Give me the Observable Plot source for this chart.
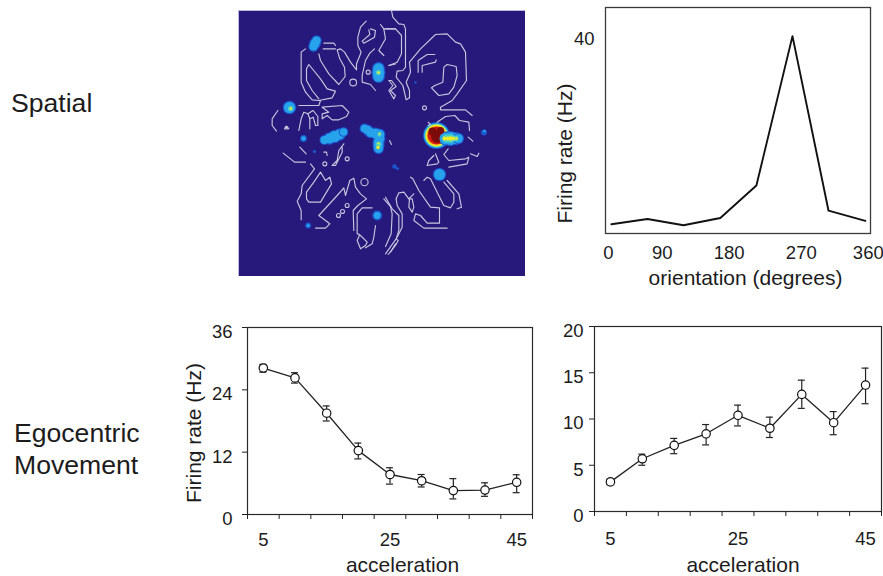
<!DOCTYPE html>
<html><head><meta charset="utf-8">
<script src="https://cdn.jsdelivr.net/npm/d3@7"></script>
<script src="https://cdn.jsdelivr.net/npm/@observablehq/plot@0.6"></script>
<style>
html,body{margin:0;padding:0;background:#fff;}
#page{position:relative;width:883px;height:576px;overflow:hidden;font-family:"Liberation Sans",Arial,sans-serif;color:#1c1c1c;}
#page svg{position:absolute;background:transparent;max-width:none;font-family:"Liberation Sans",Arial,sans-serif;}
.side{position:absolute;font-size:26.6px;line-height:32px;white-space:pre;}
.soft{filter:blur(0.65px);}
.soft2{filter:blur(0.35px);}
</style></head><body><div id="page">
<div class="side" style="left:11px;top:87px">Spatial</div>
<div class="side" style="left:14px;top:417px">Egocentric
Movement</div>
</div>
<script>
// Orientation tuning
const orientationDeg=[8,57,106,156,205,254,303,353];
const orientationRate=[1.9,3.0,1.7,3.2,9.9,40.7,4.7,2.6];
const orientationLabels=["0","90","180","270","360"];
const orientationLabelAt=[4,77,168,266,357];
// Acceleration tuning
const accel=[5,10,15,20,25,30,35,40,45];
const accelEdges=[2.5,7.5,12.5,17.5,22.5,27.5,32.5,37.5,42.5,47.5];
const accelLabels=[5,25,45];
const rateA=[28.2,26.3,19.5,12.3,7.7,6.5,4.6,4.7,6.2];
const hiA=[28.9,27.3,20.9,13.75,9,7.7,6.9,6.1,7.65];
const loA=[27.4,25.3,18,10.7,5.85,5.3,3,3.5,4.2];
const rateB=[3.2,5.7,7.15,8.4,10.4,9.0,12.66,9.6,13.67];
const hiB=[3.5,6.2,7.9,9.4,11.5,10.2,14.2,10.8,15.5];
const loB=[2.9,5.0,6.25,7.2,9.25,8,11.15,8.3,11.65];
const ticksA=[0,12,24,36];
const ticksB=[0,5,10,15,20];
// Rate map: firing patches (x, y, radius, level)
const levelNames=[0,1,2,3,4,5,6];
const levelColors=["#1b58cf","#27a3ec","#4fd2c4","#f4ea24","#f08a1c","#d51a10","#7c0c0c"];
const patches=[
 [313,46,5.2,0],[314.5,43,5.8,0],[316,40,5.2,0],[313,46,4,1],[314.5,43,4.5,1],[316,40,4,1],
 [378,68,6.5,0],[378,72,7,0],[378,76,6.5,0],[378,68,5.2,1],[378,72,5.8,1],[378,76,5.2,1],[378,72,2.6,2],[378,72,1.2,3],
 [289,107,6.8,0],[289,107,5.6,1],[290,108,2.6,2],[290.5,108,1.2,3],
 [303,138,3.4,0],[303,138,2.2,1],
 [324,139.5,5,0],[329,138,6.2,0],[334,136,6.6,0],[339,134,6.2,0],[343,131.5,4.8,0],
 [324,139.5,4,1],[329,138,5,1],[334,136,5.5,1],[339,134,5,1],[343,131.5,3.8,1],
 [364,128,5,0],[367,129.5,5.5,0],[370,132,5.8,0],[375,133,6,0],[379,134,6,0],[379,138,6,0],[378,142,6,0],[378,145,6,0],[378,148,5.5,0],
 [364,128,3.8,1],[367,129.5,4.2,1],[370,132,4.5,1],[375,133,4.8,1],[379,134,4.8,1],[379,138,4.8,1],[378,142,4.8,1],[378,145,4.8,1],[378,148,4.4,1],
 [379,134,2,2],[378,144,2.8,2],[377.5,147,1.7,3],[378,143,1.1,3],[379,133,1,3],
 [436,135,13.5,0],[445,138,7,0],[450,138,7.5,0],[455,138,6.6,0],[458,138,5.5,0],
 [436,135,12.6,1],[445,138,6,1],[450,138,6.5,1],[455,138,5.6,1],[458,138,4.5,1],
 [436,135,11.8,2],[446,138,4,2],[450,138,4.2,2],[455,138,3,2],
 [436,135,11,3],[444,138,2,3],[447,138,2,3],[450,138,2.2,3],[453,138,1.8,3],[456,138,1.2,3],
 [436,135,9.6,4],[436,135,8.8,5],[432,131,4,6],[440,130,3.6,6],[437,136,6.4,6],
 [483.5,132,3,0],[484,130.5,1.3,1],
 [439,174,6.6,0],[439,174,5.5,1],
 [376.7,215,5,0],[376.7,215,3.4,1],
 [307.7,225,3,0],[307.7,225,1.6,1],
 [394,166,2.2,0],[397,168,1.6,0],[314,151,1.6,0],[415,82,1.2,0]
].sort((a,b)=>a[3]-b[3]);
// Rate map: outline traces of the apparatus, read per quadrant (origin, then points at 3 units per pixel)
const outlinesNW=[
 [[287,32],[270,50],[262,80],[262,105],[272,125],[258,160],[258,178],[240,155],[222,125],[210,115],[200,118],[208,145],[222,170],[224,198],[205,222],[175,190],[150,150],[145,130]],
 [[160,98],[190,98],[195,105]],[[158,115],[195,115]],
 [[105,115],[92,125],[92,215],[105,245],[125,268],[145,270],[185,262],[195,242],[170,235],[150,205],[115,162],[108,175],[108,210],[125,240],[145,265]],
 [[85,285],[145,285],[150,270]],
 [[300,55],[315,60],[312,80],[280,98],[275,92],[298,72],[295,58]],
 [[330,42],[340,55],[345,85],[325,120],[340,135]],[[340,55],[375,55]],
 [[312,115],[298,128],[285,150],[275,195],[275,215],[300,222],[315,240]],
 [[375,160],[355,165]],
 [[22,300],[5,325],[5,345],[18,362]],
 [[85,360],[92,325],[100,305],[112,310],[118,325],[118,355]],
 [[112,310],[128,300],[142,318],[142,345],[135,345],[128,320],[118,325]],
 [[155,290],[215,285],[235,305],[228,318],[205,328],[185,328],[170,315],[155,325],[155,310],[175,305],[155,290]],
 [[42,355],[48,347],[55,355]]
];
const outlinesNE=[
 [[18,0],[22,20],[40,40],[55,42],[60,55],[60,170],[52,180],[35,182],[32,200],[52,225],[58,250],[62,268],[72,262],[72,240],[62,215],[75,185],[72,155],[105,115],[150,72],[185,70],[210,95],[225,100],[240,125],[243,210],[215,250],[200,270],[165,290],[165,298],[240,298],[260,315]],
 [[0,55],[30,55],[48,75],[48,130],[35,155],[10,165]],
 [[10,210],[22,225],[10,240],[25,265],[30,255],[15,240],[32,228],[18,210],[10,210]],
 [[98,185],[98,150],[125,132],[148,132]],[[110,185],[110,165],[150,155],[152,148]],
 [[185,162],[175,170],[172,215],[148,225],[138,232],[160,255],[190,250],[205,230],[215,195],[212,168],[185,162]],
 [[155,335],[180,318],[208,315],[222,330],[250,335],[252,360]],
 [[128,335],[135,342],[128,345]]
];
const outlinesSW=[
 [[38,68],[60,85],[72,95],[105,95]],[[88,50],[107,70]],
 [[120,100],[132,115],[95,165],[92,190],[80,212],[92,240],[92,268]],
 [[160,65],[168,65],[170,75]],
 [[220,40],[205,60],[200,90],[185,105],[195,105],[215,65],[215,50]],
 [[108,205],[108,185],[130,155],[150,125],[165,150],[178,140],[183,160],[150,215],[115,215],[108,205]],
 [[135,293],[165,293],[178,280],[145,255],[200,195],[220,172],[225,195],[238,150],[250,143],[255,170],[270,190],[288,205],[262,225],[248,240],[250,300]],
 [[305,232],[275,232],[260,250],[260,310],[268,312],[260,330],[270,355],[285,345],[290,335],[270,315]],
 [[315,285],[310,320],[305,340],[285,352]],
 [[340,205],[360,228],[365,250],[362,310],[345,348]],
 [[375,340],[360,365]]
];
const outlinesSE=[
 [[0,200],[20,235],[40,255],[40,300],[32,325],[38,330],[30,345],[8,372]],
 [[32,325],[0,370]],
 [[32,205],[40,187],[55,185],[70,205],[85,190]],
 [[32,205],[35,225],[50,250],[50,290],[35,320]],
 [[72,205],[70,230],[80,245],[85,230],[80,205],[72,205]],
 [[75,140],[82,145],[100,180],[135,230],[162,232],[162,278],[125,278],[105,255],[90,250],[85,270],[115,293],[185,293]],
 [[115,150],[125,140],[135,145],[155,185],[175,225],[195,232],[205,215],[205,190],[175,155]],
 [[185,150],[220,190],[228,230],[215,235]],
 [[125,105],[130,90],[145,75]],[[150,70],[160,95],[155,100],[125,105]],
 [[188,55],[175,72],[190,90],[240,85],[250,80],[245,100],[190,110]],
 [[255,70],[275,78],[280,68]],
 [[12,30],[18,42]],[[248,20],[262,32]]
];
// Small closed loops in the same read-off units: origin index, x, y, radius in pixels
const ovals=[
 [0,293,185,2],[0,248,216,3.4],[1,117,292,2],[0,48,352,1.3],
 [2,163,100,2],[2,230,85,2],[2,282,155,3.6],[2,204,255,2],[2,216,243,2],[2,230,225,2]
];
const origins=[[270,10],[385,10],[270,130],[385,130]];
const groups=[outlinesNW,outlinesNE,outlinesSW,outlinesSE];

const axisColor="#222", txt="#1c1c1c", fs=18.5, lfs=21;
const page=document.getElementById("page");
function place(svg,left,top){svg.style.left=left+"px";svg.style.top=top+"px";page.appendChild(svg);}

// Rate map
const outlineRows=groups.flatMap((g,k)=>g.flatMap((p,i)=>p.map(([x,y])=>({id:k+"-"+i,x:origins[k][0]+x/3,y:origins[k][1]+y/3}))));
const ovalRows=ovals.map(([k,x,y,r])=>({x:origins[k][0]+x/3,y:origins[k][1]+y/3,r}));
place(Plot.plot({
 width:287,height:266,marginLeft:0,marginRight:0,marginTop:0,marginBottom:0,
 x:{domain:[238,525],range:[0,287],axis:null},
 y:{domain:[10,276],range:[0,266],axis:null},
 color:{domain:levelNames,range:levelColors,type:"ordinal"},
 marks:[
  Plot.frame({fill:"#26197b",stroke:"#b9b9e0",strokeWidth:1}),
  Plot.dot(patches,{x:d=>d[0],y:d=>d[1],r:{value:d=>d[2],scale:null},fill:d=>d[3],className:"soft"}),
  Plot.line(outlineRows,{x:"x",y:"y",z:"id",stroke:"#c6c6de",strokeWidth:1.15,className:"soft2"}),
  Plot.dot(ovalRows,{x:"x",y:"y",r:{value:"r",scale:null},stroke:"#c6c6de",strokeWidth:1.1,className:"soft2"})
 ]}),238,10);

// Orientation
const orient=orientationDeg.map((x,i)=>({x,y:orientationRate[i]}));
place(Plot.plot({
 width:338,height:293,marginLeft:60,marginRight:13,marginTop:7,marginBottom:60,
 x:{domain:[0,360]},y:{domain:[0,46.6]},
 marks:[
  Plot.frame({stroke:"#3a3a3a",strokeWidth:1.3}),
  Plot.axisX(orientationLabelAt,{tickSize:0,tickPadding:12,fontSize:fs,label:null,tickFormat:d=>orientationLabels[orientationLabelAt.indexOf(d)],fill:txt}),
  Plot.axisY([40],{tickSize:0,tickPadding:11,fontSize:fs,label:null,fill:txt}),
  Plot.line(orient,{x:"x",y:"y",stroke:"#111",strokeWidth:1.9}),
  Plot.text(["orientation (degrees)"],{frameAnchor:"bottom",dx:7.5,dy:45,lineAnchor:"middle",fontSize:lfs,fill:txt}),
  Plot.text(["Firing rate (Hz)"],{frameAnchor:"left",textAnchor:"middle",dx:-40,dy:33,rotate:-90,fontSize:lfs,fill:txt})
 ]}),545,0);

function accelPlot(rate,hi,lo,ticks,yMax,opt){
 const rows=accel.map((x,i)=>({x,y:rate[i],hi:hi[i],lo:lo[i]}));
 return Plot.plot({
  width:opt.width,height:opt.height,marginLeft:opt.ml,marginRight:opt.mr,marginTop:10,marginBottom:opt.mb,
  x:{domain:[2.5,47.5]},y:{domain:[0,yMax]},
  marks:[
   Plot.frame({stroke:"#2a2a2a",strokeWidth:1.2}),
   Plot.axisX(accelEdges,{tickSize:5,tickFormat:()=>"",label:null,stroke:axisColor}),
   Plot.axisX(accelLabels,{tickSize:0,tickPadding:opt.xpad,fontSize:fs,label:null,fill:txt}),
   Plot.axisY(ticks,{tickSize:5,tickFormat:()=>"",label:null,stroke:axisColor}),
   Plot.axisY(ticks,{tickSize:0,tickPadding:opt.ypad,dy:4.5,fontSize:fs,label:null,fill:txt}),
   Plot.line(rows,{x:"x",y:"y",stroke:"#222",strokeWidth:1.3}),
   Plot.ruleX(rows,{x:"x",y1:"lo",y2:"hi",stroke:"#222",strokeWidth:1.2}),
   Plot.ruleY(rows,{y:"hi",x1:d=>d.x-.55,x2:d=>d.x+.55,stroke:"#222",strokeWidth:1.2}),
   Plot.ruleY(rows,{y:"lo",x1:d=>d.x-.55,x2:d=>d.x+.55,stroke:"#222",strokeWidth:1.2}),
   Plot.dot(rows,{x:"x",y:"y",r:4.2,fill:"#fff",stroke:"#111",strokeWidth:1.2}),
   Plot.text(["acceleration"],{frameAnchor:"bottom",dx:opt.ldx,dy:opt.ldy,lineAnchor:"middle",fontSize:lfs,fill:txt}),
   ...(opt.ylabel?[Plot.text([opt.ylabel],{frameAnchor:"left",textAnchor:"middle",dx:-53,dy:12,rotate:-90,fontSize:lfs,fill:txt})]:[])
  ]});
}
place(accelPlot(rateA,hiA,loA,ticksA,36,{width:365,height:259,ml:70,mr:10,mb:62,xpad:18,ypad:15,ldx:12.5,ldy:51,ylabel:"Firing rate (Hz)"}),177,317);
place(accelPlot(rateB,hiB,loB,ticksB,20,{width:339,height:260,ml:50,mr:2,mb:65,xpad:20,ypad:11,ldx:5,ldy:54}),544,316);
</script></body></html>
